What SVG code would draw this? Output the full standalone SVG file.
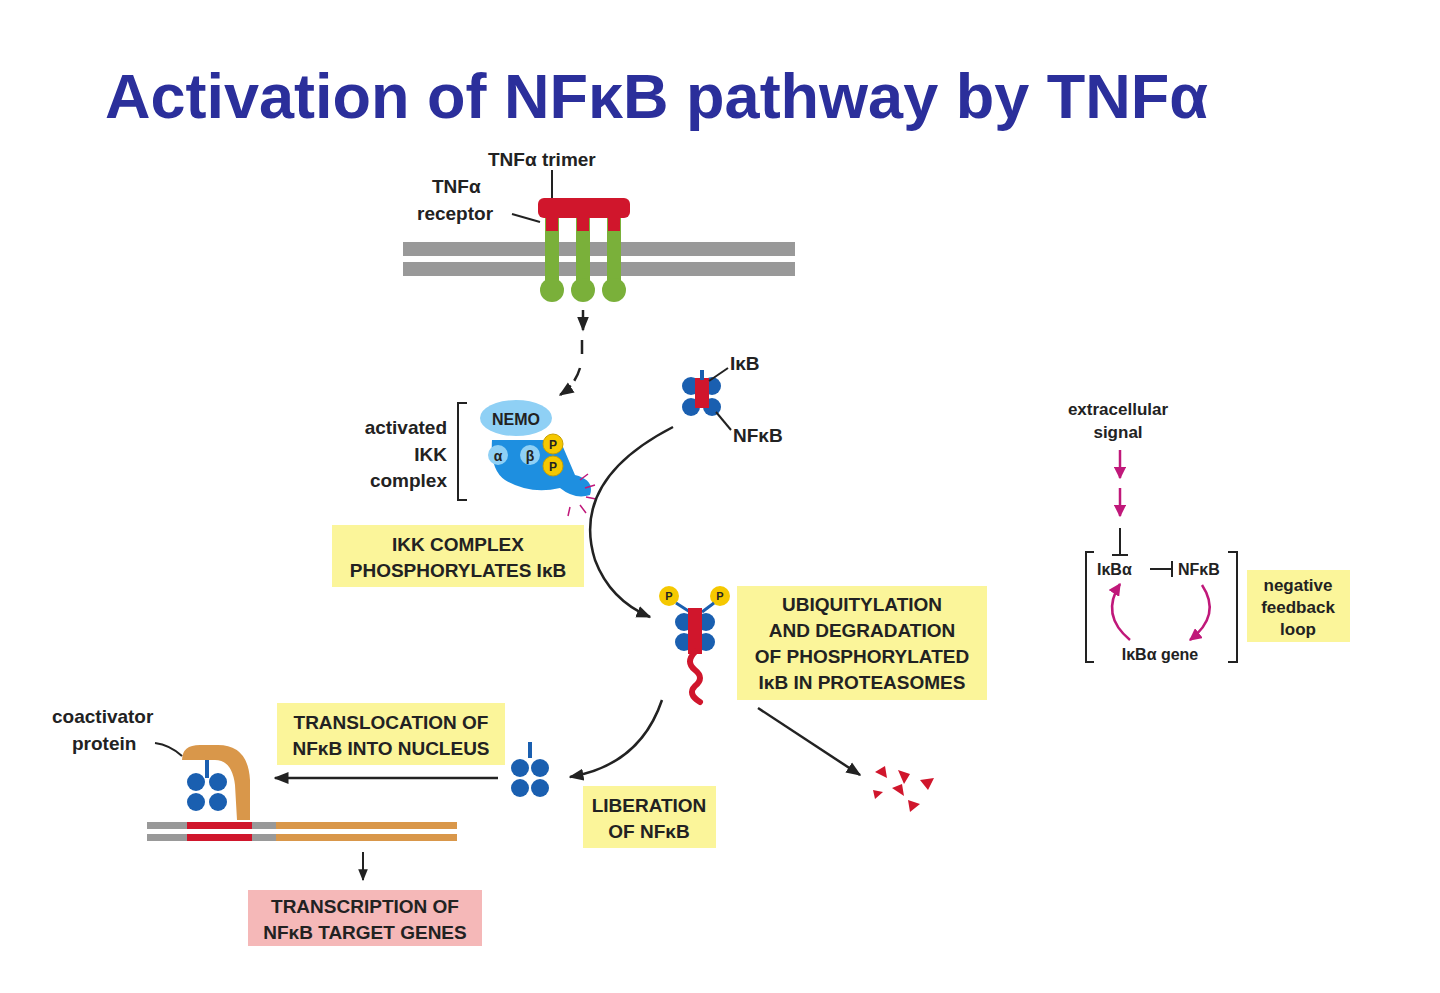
<svg xmlns="http://www.w3.org/2000/svg" width="1440" height="993" viewBox="0 0 1440 993">
<defs>
<marker id="ah" viewBox="0 0 10 10" refX="9" refY="5" markerWidth="6" markerHeight="6" orient="auto"><path d="M0,1 L10,5 L0,9 z" fill="#222"/></marker>
<marker id="ahm" viewBox="0 0 10 10" refX="9" refY="5" markerWidth="5" markerHeight="5" orient="auto"><path d="M0,0 L10,5 L0,10 z" fill="#c0187a"/></marker>
<marker id="tb" viewBox="0 0 10 10" refX="5" refY="5" markerWidth="6" markerHeight="6" orient="auto"><path d="M5,0 L5,10" stroke="#222" stroke-width="2"/></marker>
</defs>
<style>
.t{font-family:"Liberation Sans",Arial,sans-serif;font-weight:bold;fill:#222}
.s{font-size:19px}
.b{font-size:19px;text-anchor:middle}
.y{fill:#fbf59a}
.c{fill:none;stroke:#222;stroke-width:2.5}
.blue{fill:#1a5fb0}
.red{fill:#d0162c}
.grn{fill:#7ab03a}
</style>
<rect width="1440" height="993" fill="#fff"/>
<text x="105" y="118" font-family="Liberation Sans,Arial,sans-serif" font-weight="bold" font-size="63" fill="#2b2f9b">Activation of NFκB pathway by TNFα</text>

<g id="membrane">
<rect x="403" y="242" width="392" height="14" fill="#999"/>
<rect x="403" y="262" width="392" height="14" fill="#999"/>
</g>
<g id="receptor">
<rect x="545" y="215" width="14" height="70" class="grn"/><circle cx="552" cy="290" r="12" class="grn"/>
<rect x="576" y="215" width="14" height="70" class="grn"/><circle cx="583" cy="290" r="12" class="grn"/>
<rect x="607" y="215" width="14" height="70" class="grn"/><circle cx="614" cy="290" r="12" class="grn"/>
<rect x="538" y="198" width="92" height="20" rx="6" class="red"/>
<rect x="546" y="215" width="12" height="16" class="red"/><rect x="577" y="215" width="12" height="16" class="red"/><rect x="608" y="215" width="12" height="16" class="red"/>
<text class="t s" x="488" y="166">TNFα trimer</text>
<line x1="552" y1="170" x2="552" y2="198" stroke="#222" stroke-width="2"/>
<text class="t s" x="432" y="193">TNFα</text>
<text class="t s" x="417" y="220">receptor</text>
<line x1="512" y1="214" x2="540" y2="222" stroke="#222" stroke-width="2"/>
</g>
<g id="ikk">
<path d="M492,440 Q490,470 505,480 Q530,495 560,488 Q575,500 590,495 Q595,480 575,475 L560,440 z" fill="#1e8fe0"/>
<ellipse cx="516" cy="418" rx="36" ry="18" fill="#8fd0f5"/>
<text class="t" x="516" y="425" font-size="16" text-anchor="middle" fill="#234">NEMO</text>
<circle cx="498" cy="455" r="10" fill="#8fd0f5"/><text class="t" x="498" y="461" font-size="14" text-anchor="middle">α</text>
<circle cx="530" cy="455" r="10" fill="#8fd0f5"/><text class="t" x="530" y="461" font-size="14" text-anchor="middle">β</text>
<circle cx="553" cy="444" r="10" fill="#f5c800" stroke="#c9a000"/><circle cx="553" cy="466" r="10" fill="#f5c800" stroke="#c9a000"/>
<text class="t" x="553" y="449" font-size="12" text-anchor="middle">P</text><text class="t" x="553" y="471" font-size="12" text-anchor="middle">P</text>
<path d="M580,480 l8,-6 M585,488 l10,-3 M586,497 l10,2 M580,505 l6,8 M570,507 l-2,9" stroke="#c0187a" stroke-width="1.5"/>
<text class="t s" x="447" y="434" text-anchor="end">activated</text>
<text class="t s" x="447" y="461" text-anchor="end">IKK</text>
<text class="t s" x="447" y="487" text-anchor="end">complex</text>
<path d="M467,403 H458 V500 H467" fill="none" stroke="#222" stroke-width="2"/>
</g>
<g id="label-ikk"><rect x="332" y="525" width="252" height="62" class="y"/><text class="t b" x="458" y="551">IKK COMPLEX</text><text class="t b" x="458" y="577">PHOSPHORYLATES IκB</text></g>
<g id="ikb-nfkb">
<circle cx="691" cy="386" r="9" class="blue"/><circle cx="712" cy="386" r="9" class="blue"/><circle cx="691" cy="407" r="9" class="blue"/><circle cx="712" cy="407" r="9" class="blue"/>
<rect x="695" y="378" width="14" height="30" class="red"/><rect x="700" y="370" width="4" height="10" class="blue"/>
<text class="t s" x="730" y="370">IκB</text><line x1="709" y1="381" x2="728" y2="368" stroke="#222" stroke-width="2"/>
<text class="t s" x="733" y="442">NFκB</text><line x1="716" y1="412" x2="731" y2="430" stroke="#222" stroke-width="2"/>
</g>
<g id="p-ikb">
<circle cx="669" cy="596" r="10" fill="#f5c800"/><circle cx="720" cy="596" r="10" fill="#f5c800"/>
<text class="t" x="669" y="600" font-size="11" text-anchor="middle">P</text><text class="t" x="720" y="600" font-size="11" text-anchor="middle">P</text>
<path d="M676,603 L690,612 M714,603 L702,612" stroke="#1a5fb0" stroke-width="3"/>
<circle cx="684" cy="622" r="9" class="blue"/><circle cx="706" cy="622" r="9" class="blue"/><circle cx="684" cy="642" r="9" class="blue"/><circle cx="706" cy="642" r="9" class="blue"/>
<rect x="688" y="608" width="14" height="46" class="red"/>
<path d="M695,652 q-10,10 0,18 q10,8 0,16 q-8,8 5,16" fill="none" stroke="#d0162c" stroke-width="6" stroke-linecap="round"/>
</g>
<g id="label-ubi"><rect x="737" y="586" width="250" height="114" class="y"/>
<text class="t b" x="862" y="611">UBIQUITYLATION</text><text class="t b" x="862" y="637">AND DEGRADATION</text><text class="t b" x="862" y="663">OF PHOSPHORYLATED</text><text class="t b" x="862" y="689">IκB IN PROTEASOMES</text></g>
<g id="fragments" class="red">
<path d="M875,772 l10,-6 l2,12 z M898,770 l12,4 l-6,10 z M873,790 l10,2 l-8,7 z M892,788 l10,-4 l2,12 z M920,780 l14,-2 l-6,12 z M908,800 l12,4 l-10,8 z"/>
</g>
<g id="free-nfkb">
<rect x="528" y="742" width="4" height="16" class="blue"/>
<circle cx="520" cy="768" r="9" class="blue"/><circle cx="540" cy="768" r="9" class="blue"/><circle cx="520" cy="788" r="9" class="blue"/><circle cx="540" cy="788" r="9" class="blue"/>
</g>
<g id="label-trans"><rect x="277" y="703" width="228" height="62" class="y"/><text class="t b" x="391" y="729">TRANSLOCATION OF</text><text class="t b" x="391" y="755">NFκB INTO NUCLEUS</text></g>
<g id="label-lib"><rect x="583" y="786" width="133" height="62" class="y"/><text class="t b" x="649" y="812">LIBERATION</text><text class="t b" x="649" y="838">OF NFκB</text></g>
<g id="dna">
<rect x="147" y="822" width="310" height="7" fill="#d9974a"/><rect x="147" y="834" width="310" height="7" fill="#d9974a"/>
<rect x="147" y="822" width="40" height="7" fill="#999"/><rect x="147" y="834" width="40" height="7" fill="#999"/>
<rect x="187" y="822" width="65" height="7" class="red"/><rect x="187" y="834" width="65" height="7" class="red"/>
<rect x="252" y="822" width="24" height="7" fill="#999"/><rect x="252" y="834" width="24" height="7" fill="#999"/>
<path d="M182,760 Q182,745 200,745 L218,745 Q248,745 250,780 L250,820 L237,820 L235,785 Q232,760 215,760 Z" fill="#d9974a"/>
<rect x="205" y="760" width="4" height="18" class="blue"/>
<circle cx="196" cy="782" r="9" class="blue"/><circle cx="218" cy="782" r="9" class="blue"/><circle cx="196" cy="802" r="9" class="blue"/><circle cx="218" cy="802" r="9" class="blue"/>
<text class="t s" x="52" y="723">coactivator</text><text class="t s" x="72" y="750">protein</text>
<path d="M155,743 Q170,745 182,756" fill="none" stroke="#222" stroke-width="2"/>
</g>
<g id="label-transcr"><rect x="248" y="890" width="234" height="56" fill="#f5b8b8"/><text class="t b" x="365" y="913">TRANSCRIPTION OF</text><text class="t b" x="365" y="939">NFκB TARGET GENES</text></g>
<g id="connectors">
<path d="M583,310 V330" class="c" marker-end="url(#ah)"/>
<path d="M582,340 V360 M580,368 Q575,385 560,395" class="c" stroke-dasharray="14,6" marker-end="url(#ah)"/>
<path d="M673,427 Q570,480 595,560 Q610,600 650,617" class="c" marker-end="url(#ah)"/>
<path d="M662,700 Q640,765 570,777" class="c" marker-end="url(#ah)"/>
<path d="M498,778 H275" class="c" marker-end="url(#ah)"/>
<path d="M758,708 L860,775" class="c" marker-end="url(#ah)"/>
<path d="M363,852 V880" stroke="#222" stroke-width="2" marker-end="url(#ah)"/>
</g>
<g id="feedback">
<text class="t" x="1118" y="415" font-size="17" text-anchor="middle">extracellular</text>
<text class="t" x="1118" y="438" font-size="17" text-anchor="middle">signal</text>
<path d="M1120,450 V478" stroke="#c0187a" stroke-width="2.5" marker-end="url(#ahm)"/>
<path d="M1120,488 V516" stroke="#c0187a" stroke-width="2.5" marker-end="url(#ahm)"/>
<path d="M1120,528 V555 M1112,555 H1128" stroke="#222" stroke-width="2"/>
<path d="M1094,552 H1086 V662 H1094 M1228,552 H1237 V662 H1228" fill="none" stroke="#222" stroke-width="2"/>
<text class="t" x="1097" y="575" font-size="16">IκBα</text>
<path d="M1150,569 H1172 M1172,561 V577" stroke="#222" stroke-width="2"/>
<text class="t" x="1178" y="575" font-size="16">NFκB</text>
<text class="t" x="1160" y="660" font-size="16" text-anchor="middle">IκBα gene</text>
<path d="M1130,640 Q1100,615 1120,584" fill="none" stroke="#c0187a" stroke-width="2.5" marker-end="url(#ahm)"/>
<path d="M1202,585 Q1222,615 1190,640" fill="none" stroke="#c0187a" stroke-width="2.5" marker-end="url(#ahm)"/>
<rect x="1247" y="570" width="103" height="72" class="y"/>
<text class="t" x="1298" y="591" font-size="17" text-anchor="middle">negative</text>
<text class="t" x="1298" y="613" font-size="17" text-anchor="middle">feedback</text>
<text class="t" x="1298" y="635" font-size="17" text-anchor="middle">loop</text>
</g>
</svg>
